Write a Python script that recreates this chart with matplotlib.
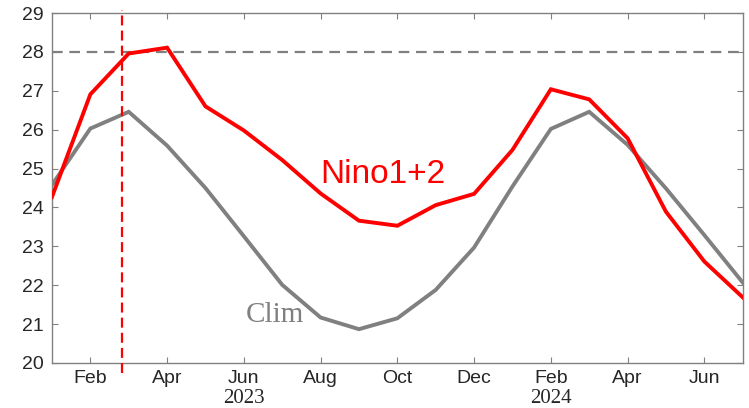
import matplotlib
matplotlib.use("Agg")
import matplotlib.pyplot as plt
import matplotlib.transforms as mtransforms

# Monthly index: 0 = Jan 2023 ... 18 = Jul 2024
months = list(range(19))
nino12 = [24.27, 26.91, 27.96, 28.11, 26.60, 25.98, 25.22, 24.36, 23.66, 23.53,
          24.06, 24.35, 25.48, 27.04, 26.78, 25.78, 23.89, 22.61, 21.69]
clim = [24.58, 26.03, 26.46, 25.59, 24.50, 23.26, 22.01, 21.17, 20.87, 21.15,
        21.88, 22.97, 24.54, 26.02, 26.46, 25.61, 24.49, 23.29, 22.07]
tick_pos = [1, 3, 5, 7, 9, 11, 13, 15, 17]
tick_labels = ["Feb", "Apr", "Jun", "Aug", "Oct", "Dec", "Feb", "Apr", "Jun"]
year_pos = [5, 13]
year_labels = ["2023", "2024"]
threshold = 28
forecast_start = 1.83

fig = plt.figure(figsize=(7.49, 4.08), dpi=100)
ax = fig.add_axes([0.0694, 0.1103, 0.9222, 0.8577])

ax.plot(months, clim, color="#808080", lw=2.8, solid_joinstyle="miter", zorder=3)
ax.plot(months, nino12, color="#ff0000", lw=2.8, solid_joinstyle="miter", zorder=4)
ax.axhline(threshold, color="#808080", lw=1.6, ls=(0, (4.8, 3)), zorder=2)
ax.plot([forecast_start, forecast_start], [19.74, 29.08], color="#ff0000", lw=1.6,
        ls=(0, (4.5, 2.3)), clip_on=False, zorder=5)

ax.set_xlim(0, 18)
ax.set_ylim(20, 29)
ax.set_yticks(range(20, 30))
ax.set_xticks(tick_pos)
ax.set_xticklabels(tick_labels)

for s in ax.spines.values():
    s.set_color("#808080")
    s.set_linewidth(1.0)
ax.tick_params(direction="in", length=4, color="#808080", top=True, right=True,
               labelsize=14, labelcolor="#262626")
ax.tick_params(axis="x", pad=5)
ax.tick_params(axis="y", pad=6)
for lab in ax.get_xticklabels() + ax.get_yticklabels():
    lab.set_family("Liberation Sans")

trans = mtransforms.blended_transform_factory(ax.transData, ax.transAxes)
for xp, yl in zip(year_pos, year_labels):
    ax.text(xp, -0.101, yl, transform=trans, ha="center", va="center",
            fontsize=15, family="Liberation Serif", color="#262626")

ax.text(7.0, 24.64, "Nino1+2", color="#ff0000", fontsize=24,
        family="Liberation Sans", ha="left", va="baseline")
ax.text(5.05, 21.06, "Clim", color="#808080", fontsize=21,
        family="Liberation Serif", ha="left", va="baseline")

fig.savefig("out.png", dpi=100)
